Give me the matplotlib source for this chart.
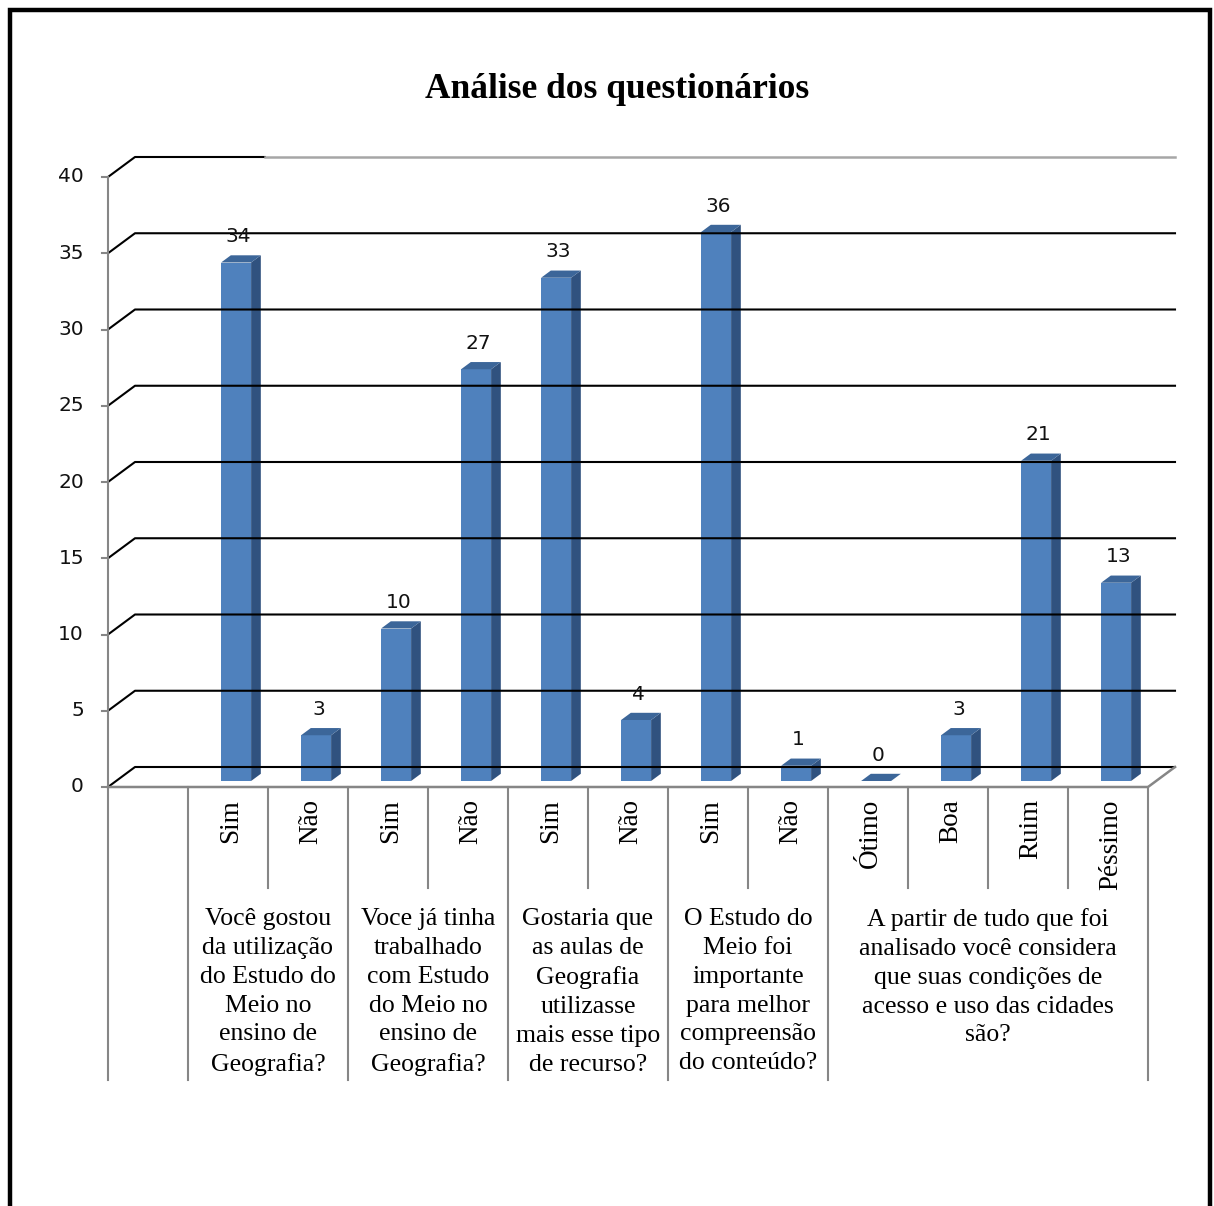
import matplotlib
matplotlib.use("Agg")
import matplotlib.pyplot as plt
from matplotlib.patches import Polygon, Rectangle
import numpy as np

# chart data
categories = ["Sim", "Não", "Sim", "Não", "Sim", "Não", "Sim", "Não",
              "Ótimo", "Boa", "Ruim", "Péssimo"]
values = [34, 3, 10, 27, 33, 4, 36, 1, 0, 3, 21, 13]
questions = [
    "Você gostou\nda utilização\ndo Estudo do\nMeio no\nensino de\nGeografia?",
    "Voce já tinha\ntrabalhado\ncom Estudo\ndo Meio no\nensino de\nGeografia?",
    "Gostaria que\nas aulas de\nGeografia\nutilizasse\nmais esse tipo\nde recurso?",
    "O Estudo do\nMeio foi\nimportante\npara melhor\ncompreensão\ndo conteúdo?",
    "A partir de tudo que foi\nanalisado você considera\nque suas condições de\nacesso e uso das cidades\nsão?",
]
question_spans = [2, 2, 2, 2, 4]
yticks = [0, 5, 10, 15, 20, 25, 30, 35, 40]
title = "Análise dos questionários"

W, H = 1214, 1206
fig = plt.figure(figsize=(W / 100, H / 100), dpi=100)
fig.patch.set_facecolor("white")

# outer frame
fig.patches.append(Rectangle((10 / W, -0.02), 1200 / W, 1 - 10 / H + 0.02,
                             transform=fig.transFigure, fill=False,
                             edgecolor="black", linewidth=3.2))

ax = fig.add_axes([108 / W, (H - 787) / H, 1040 / W, 610 / H])
ax.set_xlim(0, 13)
ax.set_ylim(0, 40)
ax.axis("off")

# depth of the 3d box in data units
DX = 27 / 80
DY = 20 / 15.25
t0, t1 = 0.3, 0.66
bw = 0.375
serif = "Liberation Serif"

# back gridlines with left diagonal
for v in yticks:
    if v == 40:
        ax.plot([0, DX, 1.96], [v, v + DY, v + DY], color="black", lw=1.5, clip_on=False)
        ax.plot([1.96, 13 + DX], [v + DY, v + DY], color="#a6a6a6", lw=1.8, clip_on=False)
    else:
        ax.plot([0, DX, 13 + DX], [v, v + DY, v + DY], color="black", lw=1.5, clip_on=False)
    ax.plot([-6 / 80, 0], [v, v], color="#868686", lw=1.5, clip_on=False)
    ax.text(-0.3, v, str(v), ha="right", va="center", fontsize=14.5,
            family="DejaVu Sans", color="#111111")

# y axis and floor
ax.plot([0, 0], [0, 40], color="#868686", lw=1.5, clip_on=False)
ax.plot([0, 13, 13 + DX], [0, 0, DY], color="#868686", lw=1.8, clip_on=False)

# bars
xs = np.arange(1, 13) + 0.5
ddx, ddy = (t1 - t0) * DX, (t1 - t0) * DY
for c, v in zip(xs, values):
    x0 = c - bw / 2 + t0 * DX
    x1 = x0 + bw
    y0 = t0 * DY
    yt = v + y0
    if v > 0:
        ax.add_patch(Polygon([(x0, y0), (x1, y0), (x1, yt), (x0, yt)],
                             closed=True, facecolor="#4f81bd", edgecolor="none", clip_on=False))
        ax.add_patch(Polygon([(x1, y0), (x1 + ddx, y0 + ddy), (x1 + ddx, yt + ddy), (x1, yt)],
                             closed=True, facecolor="#30527f", edgecolor="none", clip_on=False))
    ax.add_patch(Polygon([(x0, yt), (x1, yt), (x1 + ddx, yt + ddy), (x0 + ddx, yt + ddy)],
                         closed=True, facecolor="#3c6699", edgecolor="none", clip_on=False))
    ax.text(c + t0 * DX + 0.03, yt + ddy + 0.6, str(v), ha="center", va="bottom",
            fontsize=14.5, family="DejaVu Sans", color="#111111")

# category table below the floor
long_y = -(1080 - 787) / 15.25
short_y = -(888 - 787) / 15.25
edges = np.concatenate([[0, 1], 1 + np.cumsum(question_spans)])
for x in edges:
    ax.plot([x, x], [0, long_y], color="#868686", lw=1.5, clip_on=False)
for x in range(1, 13):
    if x not in edges:
        ax.plot([x, x], [0, short_y], color="#868686", lw=1.5, clip_on=False)

for c, name in zip(xs, categories):
    ax.text(c + 0.03, -0.8, name, rotation=90, ha="center", va="top",
            fontsize=19.5, family=serif, color="black")

for i, q in enumerate(questions):
    mid = (edges[i + 1] + edges[i + 2]) / 2
    ax.text(mid, -7.95, q, ha="center", va="top", fontsize=18.5, family=serif,
            color="black", linespacing=1.4)

fig.text(617 / W, 1 - 90 / H, title, ha="center", va="center", fontsize=25.5,
         fontweight="bold", family=serif)

fig.savefig("out.png", dpi=100)
